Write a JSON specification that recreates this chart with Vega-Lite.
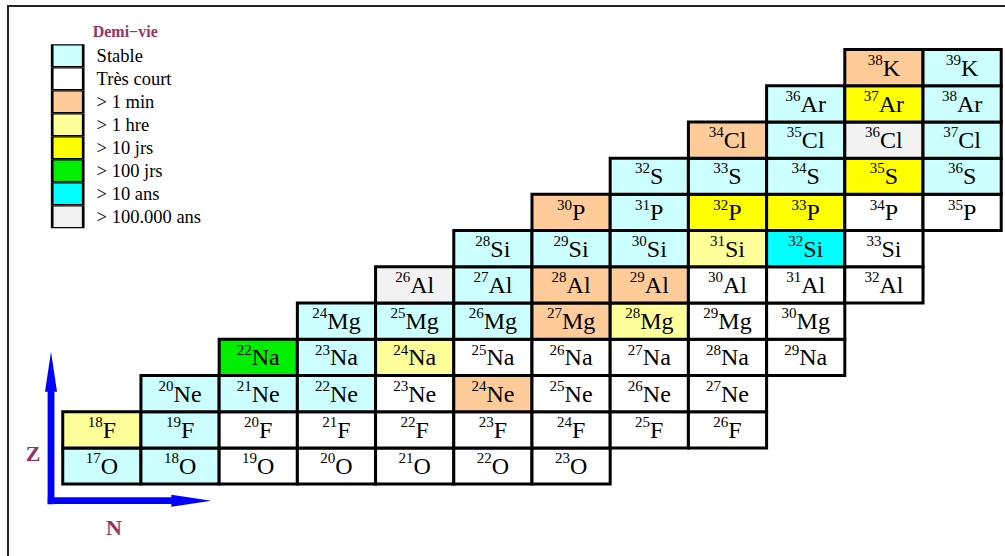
{
  "$schema": "https://vega.github.io/schema/vega-lite/v6.json",
  "width": 1003,
  "height": 556,
  "autosize": {"type": "none"},
  "padding": {"left": 8, "top": 6, "right": -6, "bottom": -6},
  "background": "white",
  "config": {
    "view": {"stroke": "#222222", "strokeWidth": 2},
    "font": "Liberation Serif"
  },
  "datasets": {
    "cells": [
      {"el": "O", "Z": 8, "A": 17, "s": "Stable"},
      {"el": "O", "Z": 8, "A": 18, "s": "Stable"},
      {"el": "O", "Z": 8, "A": 19, "s": "Très court"},
      {"el": "O", "Z": 8, "A": 20, "s": "Très court"},
      {"el": "O", "Z": 8, "A": 21, "s": "Très court"},
      {"el": "O", "Z": 8, "A": 22, "s": "Très court"},
      {"el": "O", "Z": 8, "A": 23, "s": "Très court"},
      {"el": "F", "Z": 9, "A": 18, "s": "> 1 hre"},
      {"el": "F", "Z": 9, "A": 19, "s": "Stable"},
      {"el": "F", "Z": 9, "A": 20, "s": "Très court"},
      {"el": "F", "Z": 9, "A": 21, "s": "Très court"},
      {"el": "F", "Z": 9, "A": 22, "s": "Très court"},
      {"el": "F", "Z": 9, "A": 23, "s": "Très court"},
      {"el": "F", "Z": 9, "A": 24, "s": "Très court"},
      {"el": "F", "Z": 9, "A": 25, "s": "Très court"},
      {"el": "F", "Z": 9, "A": 26, "s": "Très court"},
      {"el": "Ne", "Z": 10, "A": 20, "s": "Stable"},
      {"el": "Ne", "Z": 10, "A": 21, "s": "Stable"},
      {"el": "Ne", "Z": 10, "A": 22, "s": "Stable"},
      {"el": "Ne", "Z": 10, "A": 23, "s": "Très court"},
      {"el": "Ne", "Z": 10, "A": 24, "s": "> 1 min"},
      {"el": "Ne", "Z": 10, "A": 25, "s": "Très court"},
      {"el": "Ne", "Z": 10, "A": 26, "s": "Très court"},
      {"el": "Ne", "Z": 10, "A": 27, "s": "Très court"},
      {"el": "Na", "Z": 11, "A": 22, "s": "> 100 jrs"},
      {"el": "Na", "Z": 11, "A": 23, "s": "Stable"},
      {"el": "Na", "Z": 11, "A": 24, "s": "> 1 hre"},
      {"el": "Na", "Z": 11, "A": 25, "s": "Très court"},
      {"el": "Na", "Z": 11, "A": 26, "s": "Très court"},
      {"el": "Na", "Z": 11, "A": 27, "s": "Très court"},
      {"el": "Na", "Z": 11, "A": 28, "s": "Très court"},
      {"el": "Na", "Z": 11, "A": 29, "s": "Très court"},
      {"el": "Mg", "Z": 12, "A": 24, "s": "Stable"},
      {"el": "Mg", "Z": 12, "A": 25, "s": "Stable"},
      {"el": "Mg", "Z": 12, "A": 26, "s": "Stable"},
      {"el": "Mg", "Z": 12, "A": 27, "s": "> 1 min"},
      {"el": "Mg", "Z": 12, "A": 28, "s": "> 1 hre"},
      {"el": "Mg", "Z": 12, "A": 29, "s": "Très court"},
      {"el": "Mg", "Z": 12, "A": 30, "s": "Très court"},
      {"el": "Al", "Z": 13, "A": 26, "s": "> 100.000 ans"},
      {"el": "Al", "Z": 13, "A": 27, "s": "Stable"},
      {"el": "Al", "Z": 13, "A": 28, "s": "> 1 min"},
      {"el": "Al", "Z": 13, "A": 29, "s": "> 1 min"},
      {"el": "Al", "Z": 13, "A": 30, "s": "Très court"},
      {"el": "Al", "Z": 13, "A": 31, "s": "Très court"},
      {"el": "Al", "Z": 13, "A": 32, "s": "Très court"},
      {"el": "Si", "Z": 14, "A": 28, "s": "Stable"},
      {"el": "Si", "Z": 14, "A": 29, "s": "Stable"},
      {"el": "Si", "Z": 14, "A": 30, "s": "Stable"},
      {"el": "Si", "Z": 14, "A": 31, "s": "> 1 hre"},
      {"el": "Si", "Z": 14, "A": 32, "s": "> 10 ans"},
      {"el": "Si", "Z": 14, "A": 33, "s": "Très court"},
      {"el": "P", "Z": 15, "A": 30, "s": "> 1 min"},
      {"el": "P", "Z": 15, "A": 31, "s": "Stable"},
      {"el": "P", "Z": 15, "A": 32, "s": "> 10 jrs"},
      {"el": "P", "Z": 15, "A": 33, "s": "> 10 jrs"},
      {"el": "P", "Z": 15, "A": 34, "s": "Très court"},
      {"el": "P", "Z": 15, "A": 35, "s": "Très court"},
      {"el": "S", "Z": 16, "A": 32, "s": "Stable"},
      {"el": "S", "Z": 16, "A": 33, "s": "Stable"},
      {"el": "S", "Z": 16, "A": 34, "s": "Stable"},
      {"el": "S", "Z": 16, "A": 35, "s": "> 10 jrs"},
      {"el": "S", "Z": 16, "A": 36, "s": "Stable"},
      {"el": "Cl", "Z": 17, "A": 34, "s": "> 1 min"},
      {"el": "Cl", "Z": 17, "A": 35, "s": "Stable"},
      {"el": "Cl", "Z": 17, "A": 36, "s": "> 100.000 ans"},
      {"el": "Cl", "Z": 17, "A": 37, "s": "Stable"},
      {"el": "Ar", "Z": 18, "A": 36, "s": "Stable"},
      {"el": "Ar", "Z": 18, "A": 37, "s": "> 10 jrs"},
      {"el": "Ar", "Z": 18, "A": 38, "s": "Stable"},
      {"el": "K", "Z": 19, "A": 38, "s": "> 1 min"},
      {"el": "K", "Z": 19, "A": 39, "s": "Stable"}
    ],
    "shafts": [
      {"axis": "Z", "N1": 8.35, "Z1": 6.945, "N2": 8.35, "Z2": 10.2},
      {"axis": "N", "N1": 8.308, "Z1": 7.042, "N2": 9.95, "Z2": 7.042}
    ],
    "heads": [
      {"axis": "Z", "N": 8.35, "Z": 10.6},
      {"axis": "N", "N": 10.144, "Z": 7.042}
    ],
    "names": [
      {"axis": "Z", "N": 8.12, "Z": 8.146},
      {"axis": "N", "N": 9.155, "Z": 6.095}
    ]
  },
  "layer": [
    {
      "data": {"name": "cells"},
      "transform": [
        {"calculate": "datum.A - datum.Z", "as": "N"},
        {"calculate": "datum.N - 0.5", "as": "N0"},
        {"calculate": "datum.N + 0.5", "as": "N1"},
        {"calculate": "datum.Z - 0.5", "as": "Z0"},
        {"calculate": "datum.Z + 0.5", "as": "Z1"}
      ],
      "mark": {"type": "rect", "stroke": "black", "strokeWidth": 3},
      "encoding": {
        "x": {"field": "N0", "type": "quantitative", "scale": {"domain": [7.8, 20.625], "nice": false, "zero": false}, "axis": null},
        "x2": {"field": "N1"},
        "y": {"field": "Z0", "type": "quantitative", "scale": {"domain": [5.35, 20.7], "nice": false, "zero": false}, "axis": null},
        "y2": {"field": "Z1"},
        "fill": {
          "field": "s",
          "type": "nominal",
          "scale": {
            "domain": ["Stable", "Très court", "> 1 min", "> 1 hre", "> 10 jrs", "> 100 jrs", "> 10 ans", "> 100.000 ans"],
            "range": ["#CCFFFF", "#FFFFFF", "#FFCC99", "#FFFF99", "#FFFF00", "#00EE00", "#00FFFF", "#F2F2F2"]
          },
          "legend": {
            "title": "Demi−vie",
            "orient": "none",
            "legendX": 41.2,
            "legendY": 18,
            "padding": 0,
            "clipHeight": 22.9,
            "symbolType": "M-0.912,-0.676L0.912,-0.676L0.912,0.676L-0.912,0.676Z",
            "symbolSize": 1156,
            "symbolStrokeColor": "black",
            "symbolStrokeWidth": 2.7,
            "symbolOpacity": 1,
            "labelFont": "Liberation Serif",
            "labelFontSize": 18.5,
            "labelColor": "black",
            "labelOffset": 10.4,
            "labelLimit": 300,
            "rowPadding": 0,
            "titleFont": "Liberation Serif",
            "titleFontSize": 16,
            "titleFontWeight": "bold",
            "titleColor": "#993366",
            "titleAnchor": "middle",
            "titlePadding": 4.3
          }
        }
      }
    },
    {
      "data": {"name": "cells"},
      "transform": [
        {"calculate": "datum.A - datum.Z", "as": "N"},
        {"calculate": "datum.N + (15 - 24 * [0.722, 0.556, 1.166, 1.166, 1.389, 1.0, 0.834, 0.556, 0.556, 0.945, 1.055, 0.722][indexof(['O', 'F', 'Ne', 'Na', 'Mg', 'Al', 'Si', 'P', 'S', 'Cl', 'Ar', 'K'], datum.el)]) / 2 / 78.21", "as": "Nx"}
      ],
      "mark": {"type": "text", "font": "Liberation Serif", "fontSize": 15, "baseline": "alphabetic", "align": "right", "dy": -2.8, "color": "black"},
      "encoding": {
        "x": {"field": "Nx", "type": "quantitative", "scale": {"domain": [7.8, 20.625], "nice": false, "zero": false}, "axis": null},
        "y": {"field": "Z", "type": "quantitative", "scale": {"domain": [5.35, 20.7], "nice": false, "zero": false}, "axis": null},
        "text": {"field": "A"}
      }
    },
    {
      "data": {"name": "cells"},
      "transform": [
        {"calculate": "datum.A - datum.Z", "as": "N"},
        {"calculate": "datum.N + (15 - 24 * [0.722, 0.556, 1.166, 1.166, 1.389, 1.0, 0.834, 0.556, 0.556, 0.945, 1.055, 0.722][indexof(['O', 'F', 'Ne', 'Na', 'Mg', 'Al', 'Si', 'P', 'S', 'Cl', 'Ar', 'K'], datum.el)]) / 2 / 78.21", "as": "Nx"}
      ],
      "mark": {"type": "text", "font": "Liberation Serif", "fontSize": 24, "baseline": "alphabetic", "align": "left", "dy": 8, "color": "black"},
      "encoding": {
        "x": {"field": "Nx", "type": "quantitative", "scale": {"domain": [7.8, 20.625], "nice": false, "zero": false}, "axis": null},
        "y": {"field": "Z", "type": "quantitative", "scale": {"domain": [5.35, 20.7], "nice": false, "zero": false}, "axis": null},
        "text": {"field": "el"}
      }
    },
    {
      "data": {"name": "shafts"},
      "mark": {"type": "rule", "color": "#0000FF", "strokeWidth": 6.8, "strokeCap": "butt"},
      "encoding": {
        "x": {"field": "N1", "type": "quantitative", "scale": {"domain": [7.8, 20.625], "nice": false, "zero": false}, "axis": null},
        "y": {"field": "Z1", "type": "quantitative", "scale": {"domain": [5.35, 20.7], "nice": false, "zero": false}, "axis": null},
        "x2": {"field": "N2"},
        "y2": {"field": "Z2"}
      }
    },
    {
      "data": {"name": "heads"},
      "mark": {"type": "point", "filled": true, "color": "#0000FF", "opacity": 1, "size": 1600, "strokeWidth": 0},
      "encoding": {
        "x": {"field": "N", "type": "quantitative", "scale": {"domain": [7.8, 20.625], "nice": false, "zero": false}, "axis": null},
        "y": {"field": "Z", "type": "quantitative", "scale": {"domain": [5.35, 20.7], "nice": false, "zero": false}, "axis": null},
        "shape": {"field": "axis", "type": "nominal", "scale": {"domain": ["Z", "N"], "range": ["M0,-1L0.3,1L-0.3,1Z", "M1,0L-1,0.3L-1,-0.3Z"]}, "legend": null}
      }
    },
    {
      "data": {"name": "names"},
      "mark": {"type": "text", "font": "Liberation Serif", "fontSize": 22, "fontWeight": "bold", "color": "#993366", "baseline": "alphabetic", "align": "center"},
      "encoding": {
        "x": {"field": "N", "type": "quantitative", "scale": {"domain": [7.8, 20.625], "nice": false, "zero": false}, "axis": null},
        "y": {"field": "Z", "type": "quantitative", "scale": {"domain": [5.35, 20.7], "nice": false, "zero": false}, "axis": null},
        "text": {"field": "axis"}
      }
    }
  ]
}
